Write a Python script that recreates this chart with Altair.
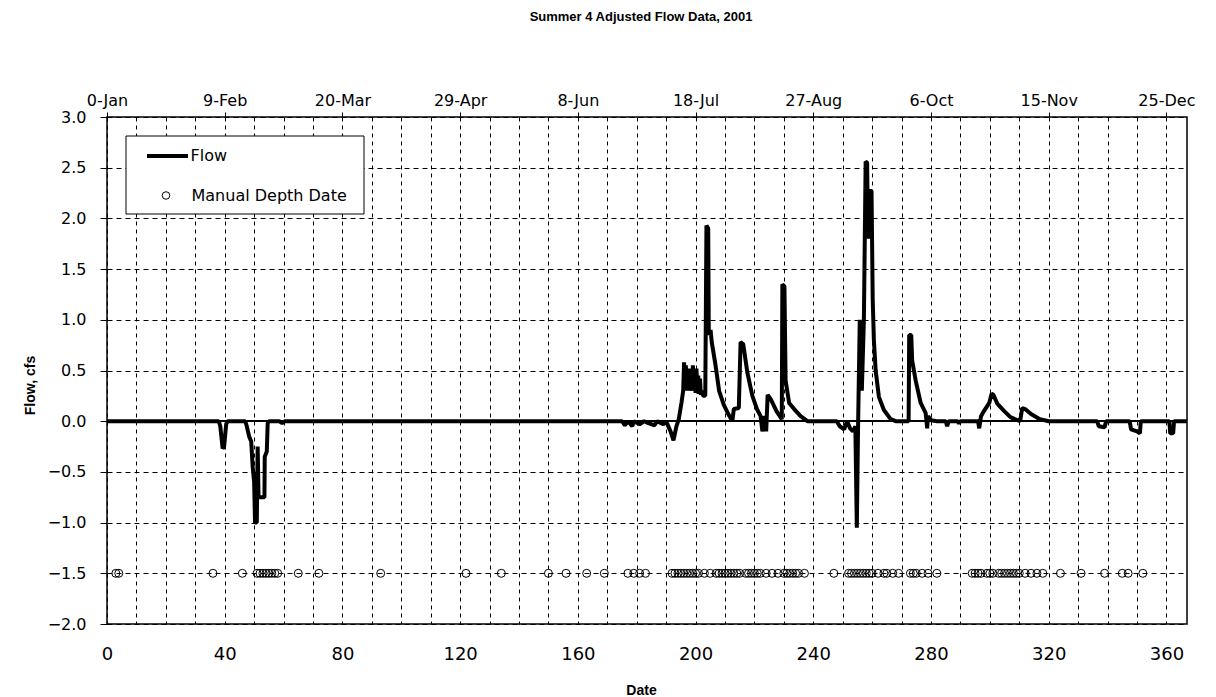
import altair as alt
import pandas as pd

# ---------------- data ----------------
flow_day = [0, 38, 38.5, 39.3, 39.8, 40.5, 41,
            47, 47.5, 48.3, 49, 49.5, 50, 50.3, 50.9, 51.2, 51.5, 53.5, 53.6, 54.3, 54.6, 55,
            58.5, 59.5, 60.5,
            175, 176, 177, 178.5, 179, 181, 182.5, 184, 186, 187, 189, 190,
            191.5, 192.5, 193.5, 194.3, 195.2, 195.8, 196.1, 196.4, 196.7, 197.0, 197.3, 197.6,
            197.9, 198.2, 198.5, 198.8, 199.1, 199.4, 199.7, 200.0, 200.3, 200.6, 200.9, 201.2,
            201.5, 201.8, 202.1, 202.6, 203.3, 203.7, 204.3, 204.5, 205.1, 205.5,
            206.8, 208, 209.6, 211.3, 212.5, 213, 214.7, 215.3, 216.2, 217.6, 219.3, 221, 222.1,
            222.7, 223.5, 224, 224.5, 225.5, 227.5, 229.3, 229.5, 230.2, 230.6, 231.8, 233.5,
            235.7, 238,
            248, 249, 250.5, 251.5, 252.5, 253.5, 254.3, 254.8, 255.2, 255.8, 256.5, 257.2,
            257.8, 258.3, 258.6, 259, 259.8, 260.2, 260.6, 261.2, 262.3, 264, 266.3, 268,
            272.4, 272.6, 273.3, 273.6, 274.8, 276.5, 278.2, 278.7, 279, 280, 282,
            285, 285.5, 286, 289, 289.5, 290,
            296, 296.4, 297, 298, 299.8, 300.6, 301.2, 302.6, 304.9, 307, 308.5, 310.3, 311,
            312, 314, 317, 320,
            336.5, 337, 339, 339.5, 347.5, 348, 350, 351, 351.3, 361, 361.3, 362.3, 362.6, 367]
flow_val = [0, 0, -0.05, -0.27, -0.25, -0.03, 0,
            0, -0.05, -0.15, -0.2, -0.45, -0.6, -1.0, -1.0, -0.25, -0.75, -0.75, -0.35, -0.3, -0.02, 0,
            0, -0.02, 0,
            0, -0.04, 0, -0.05, 0, -0.03, 0, -0.02, -0.04, 0, -0.03, 0,
            -0.1, -0.19, -0.05, 0.02, 0.18, 0.3, 0.58, 0.35, 0.55, 0.3, 0.5, 0.33,
            0.52, 0.3, 0.48, 0.32, 0.55, 0.3, 0.5, 0.28, 0.52, 0.3, 0.45, 0.27,
            0.42, 0.26, 0.3, 0.25, 0.25, 1.93, 1.9, 0.85, 0.9, 0.78,
            0.55, 0.3, 0.16, 0.06, 0.0, 0.12, 0.13, 0.78, 0.76, 0.48, 0.25, 0.11, 0.05,
            -0.1, 0.05, -0.1, 0.26, 0.22, 0.1, 0.02, 1.35, 1.33, 0.4, 0.18, 0.12,
            0.05, 0.0,
            0, -0.05, -0.08, 0, -0.07, -0.1, -0.05, -1.05, -0.1, 1.0, 0.3, 1.0,
            2.56, 2.55, 1.8, 2.27, 2.27, 1.2, 0.8, 0.5, 0.24, 0.11, 0.02, 0,
            0, 0.85, 0.85, 0.6, 0.4, 0.18, 0.08, -0.07, 0.05, 0.01, 0,
            0, -0.05, 0, 0, -0.02, 0,
            0, -0.07, 0.05, 0.1, 0.18, 0.27, 0.26, 0.17, 0.1, 0.04, 0.02, 0, 0.13,
            0.12, 0.07, 0.02, 0,
            0, -0.05, -0.06, 0, 0, -0.08, -0.1, -0.12, 0, 0, -0.12, -0.12, 0, 0]

manual_day = [3, 4, 36, 46, 51, 52, 53, 54, 55, 56, 57, 58, 65, 72, 93, 122, 134, 150, 156,
              163, 169, 177, 179, 181, 183,
              192, 193, 194, 195, 196, 197, 198, 199, 200, 201, 203, 205, 207, 208, 209, 210,
              211, 212, 213, 214, 215, 217, 218, 219, 220, 221, 222, 224, 226, 228, 230, 231,
              232, 233, 234, 235, 237, 247,
              252, 253, 254, 255, 256, 257, 258, 259, 260, 262, 264, 265, 267, 269,
              273, 274, 275, 277, 279, 282,
              294, 295, 296, 297, 299, 300, 301, 303, 304, 305, 306, 307, 308, 309, 310, 312,
              314, 316, 318, 324, 331, 339, 345, 347, 352]
manual_level = -1.5

bottom_tick_days = [0, 10, 20, 30, 40, 50, 60, 70, 80, 90, 100, 110, 120, 130, 140, 150, 160,
                    170, 180, 190, 200, 210, 220, 230, 240, 250, 260, 270, 280, 290, 300, 310,
                    320, 330, 340, 350, 360]
top_tick_days = [0, 40, 80, 120, 160, 200, 240, 280, 320, 360]
top_tick_labels = ["0-Jan", "9-Feb", "20-Mar", "29-Apr", "8-Jun", "18-Jul", "27-Aug",
                   "6-Oct", "15-Nov", "25-Dec"]
y_ticks = [-2.0, -1.5, -1.0, -0.5, 0.0, 0.5, 1.0, 1.5, 2.0, 2.5, 3.0]
legend_labels = ["Flow", "Manual Depth Date"]
title_text = "Summer 4 Adjusted  Flow Data, 2001"

# ---------------- chart ----------------
FONT = "DejaVu Sans"
TFONT = "Liberation Sans"
W, H = 1080, 507

flow_df = pd.DataFrame({"day": flow_day, "flow": flow_val})
manual_df = pd.DataFrame({"day": manual_day, "flow": [manual_level] * len(manual_day)})

x_dom = [0, 367]
x_scale = alt.Scale(domain=x_dom, nice=False, zero=False)
y_scale = alt.Scale(domain=[-2, 3], nice=False, zero=False)

top_expr = "[" + ",".join("'%s'" % s for s in top_tick_labels) + "][indexof([" + \
    ",".join(str(v) for v in top_tick_days) + "], datum.value)]"

bottom_axis = alt.Axis(
    orient="bottom", values=bottom_tick_days, title="Date",
    labelExpr="datum.value % 40 == 0 ? datum.label : ''",
    labelOverlap=False, labelFlush=False, ticks=False, labelPadding=21,
    labelFontSize=18, labelFont=FONT, labelColor="black",
    grid=True, gridDash=[4, 4], gridColor="black", gridOpacity=1, gridWidth=1,
    domain=False,
    titleFont=TFONT, titleFontSize=14, titleFontWeight="bold", titleColor="black",
    titleX=534, titleY=66, titleBaseline="middle", titleAlign="center",
)
top_axis = alt.Axis(
    orient="top", values=top_tick_days, labelExpr=top_expr, title=None,
    labelOverlap=False, labelFlush=False, ticks=True, tickSize=5, tickColor="black",
    labelPadding=4, labelFontSize=16, labelFont=FONT, labelColor="black",
    grid=False, domain=False,
)
y_axis = alt.Axis(
    values=y_ticks, format=".1f", title="Flow, cfs",
    tickSize=7, tickColor="black", labelPadding=14,
    labelFontSize=16, labelFont=FONT, labelColor="black",
    grid=True, gridDash=[5, 4], gridColor="black", gridOpacity=1, gridWidth=1,
    domain=False,
    titleFont=TFONT, titleFontSize=14, titleFontWeight="bold", titleColor="black",
    titleX=-77, titleY=268, titleBaseline="middle", titleAlign="center", titleAngle=270,
)

zero_rule = alt.Chart(flow_df).mark_rule(color="black", strokeWidth=1).encode(
    y=alt.datum(0, scale=y_scale, axis=y_axis)
)

flow_line = alt.Chart(flow_df).mark_line(
    color="black", strokeWidth=4, strokeJoin="bevel"
).encode(
    x=alt.X("day:Q", scale=x_scale, axis=bottom_axis),
    y=alt.Y("flow:Q", scale=y_scale, axis=y_axis),
    order="day:Q",
)

points = alt.Chart(manual_df).mark_point(
    shape="circle", filled=False, color="black", size=64, strokeWidth=1, opacity=1
).encode(
    x=alt.X("day:Q", scale=x_scale, axis=top_axis),
    y=alt.Y("flow:Q", scale=y_scale, axis=y_axis),
)

# legend box (decoration)
leg_df = pd.DataFrame({"label": legend_labels})
leg_box = alt.Chart(leg_df.head(1)).mark_rect(
    fill="white", stroke="black", strokeWidth=1
).encode(x=alt.value(19), x2=alt.value(257), y=alt.value(19), y2=alt.value(97))
leg_line = alt.Chart(leg_df.head(1)).mark_rule(color="black", strokeWidth=4).encode(
    x=alt.value(40), x2=alt.value(81), y=alt.value(39)
)
leg_circle = alt.Chart(leg_df.tail(1)).mark_point(
    shape="circle", filled=False, color="black", size=57, strokeWidth=1, opacity=1
).encode(x=alt.value(59), y=alt.value(78.5))
leg_text_flow = alt.Chart(leg_df.head(1)).mark_text(
    align="left", baseline="middle", font=FONT, fontSize=16, color="black"
).encode(x=alt.value(83.5), y=alt.value(39), text="label:N")
leg_text_man = alt.Chart(leg_df.tail(1)).mark_text(
    align="left", baseline="middle", font=FONT, fontSize=16, color="black"
).encode(x=alt.value(84.5), y=alt.value(78.5), text="label:N")

chart = alt.layer(
    zero_rule, flow_line, points,
    leg_box, leg_line, leg_circle, leg_text_flow, leg_text_man,
).resolve_scale(x="independent").properties(
    width=W, height=H,
    autosize=alt.AutoSizeParams(type="none"),
    padding={"left": 99, "top": 109, "right": 14, "bottom": 73},
    title=alt.TitleParams(
        title_text, font=TFONT, fontSize=13, fontWeight="bold", color="black",
        anchor="middle", frame="group", offset=68, dx=-6,
    ),
    background="white",
).configure_view(stroke="black", strokeWidth=1.5)

chart.save("out.html", embed_options={"renderer": "svg", "actions": False})
